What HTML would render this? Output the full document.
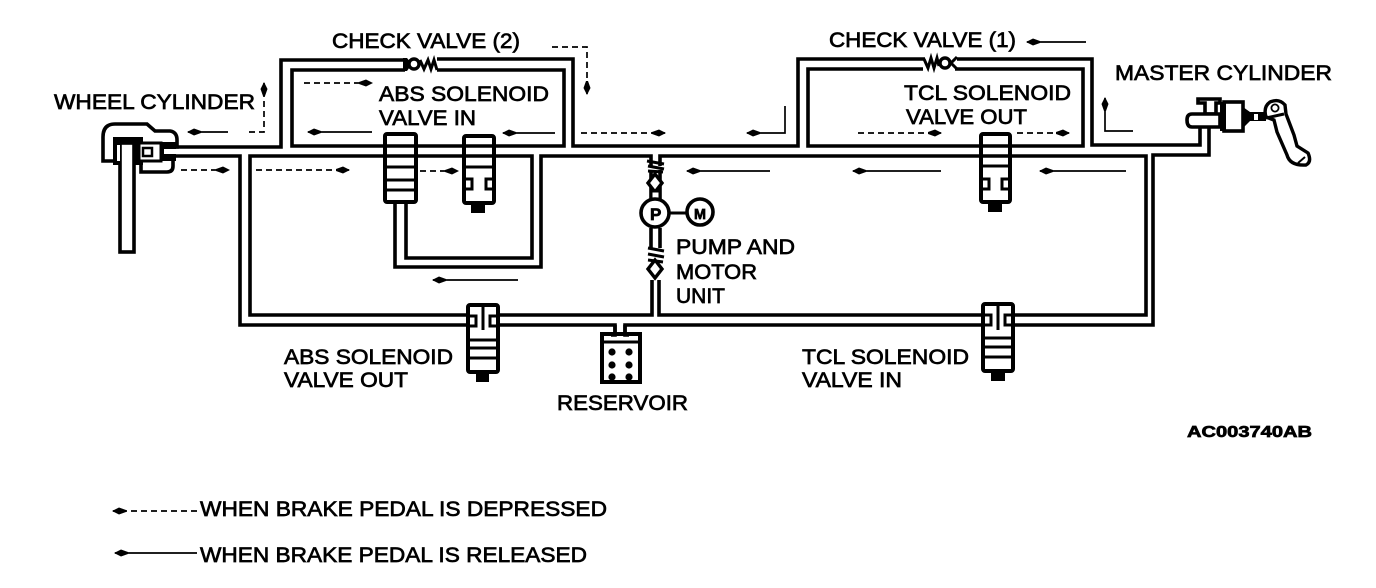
<!DOCTYPE html>
<html><head><meta charset="utf-8"><style>
html,body{margin:0;padding:0;background:#fff;width:1376px;height:588px;overflow:hidden}
svg{display:block}
.p{fill:none;stroke:#000;stroke-width:3.6;stroke-linejoin:miter}
.v{fill:#fff;stroke:#000;stroke-width:4}
.l{stroke:#000;stroke-width:3;fill:none}
.k{fill:#000}
.s{fill:none;stroke:#000;stroke-width:1.7;marker-end:url(#a)}
.d{fill:none;stroke:#000;stroke-width:1.7;stroke-dasharray:6 4;marker-end:url(#a)}
.sp{fill:none;stroke:#000;stroke-width:3}
text{font-family:"Liberation Sans",sans-serif;font-size:21.5px;fill:#000;stroke:#000;stroke-width:.7}
</style></head><body>
<svg width="1376" height="588" viewBox="0 0 1376 588" xmlns="http://www.w3.org/2000/svg">
<defs><marker id="a" markerUnits="userSpaceOnUse" markerWidth="16" markerHeight="10" refX="14" refY="5" orient="auto"><path d="M15 5L8 1.5L1 4V6L8 8.5Z" fill="#000"/></marker></defs>

<!-- pipes -->
<path class="p" d="M175 147H281V60H405M437 59H573V146H798V59H925M957 59H1092V145H1200V125"/>
<path class="p" d="M437 70H564V146H292V70H405"/>
<path class="p" d="M955 69H1083V146H808V69H923"/>
<path class="p" d="M175 156H240V325H470M470 315H250V156H532V258H406V202M395 202V267H541V156H651V166M660 166V156H1146V315H1010M1209 125V155H1153V325H1010"/>
<path class="p" d="M496 315H652V280M659 280V315H985M496 325H615V335M625 335V325H985"/>
<path class="p" d="M651 228V248M660 228V248M651 170V200M660 170V200"/>

<!-- ABS in valve -->
<rect class="v" x="385" y="134" width="31" height="68" rx="2"/>
<path class="p" d="M387 146H414M387 156H414"/>
<path class="l" d="M387 167H414M387 180H414M387 190H414"/>
<!-- second valve -->
<rect class="v" x="464" y="136" width="30" height="67" rx="2"/>
<path class="p" d="M464 146H494M464 156H494"/>
<path class="l" d="M466 167H492"/>
<path class="l" d="M466 179H472V189H466M492 179H486V189H492"/>
<rect class="k" x="471" y="203" width="14" height="10"/>
<!-- TCL out -->
<rect class="v" x="981" y="134" width="29" height="68" rx="2"/>
<path class="p" d="M981 146H1010M981 156H1010"/>
<path class="l" d="M983 166H1008"/>
<path class="l" d="M983 179H989V189H983M1008 179H1002V189H1008"/>
<rect class="k" x="988" y="202" width="14" height="10"/>
<!-- ABS out -->
<rect class="v" x="468" y="305" width="30" height="67" rx="2"/>
<path class="l" d="M470 316H476V326H470M496 316H490V326H496M483 306V330"/>
<path class="l" d="M470 340H496M470 348H496M470 358H496"/>
<rect class="k" x="476" y="372" width="13" height="10"/>
<!-- TCL in -->
<rect class="v" x="983" y="304" width="30" height="67" rx="2"/>
<path class="l" d="M985 315H991V325H985M1011 315H1005V325H1011M998 305V330"/>
<path class="l" d="M985 338H1011M985 347H1011M985 357H1011"/>
<rect class="k" x="991" y="371" width="14" height="10"/>

<!-- Reservoir -->
<rect class="v" x="602" y="334" width="38" height="48" fill="#fff"/>
<path class="l" d="M604 342H638"/>
<path class="p" d="M615 325V335H611M625 325V335H629"/>
<circle class="k" cx="612" cy="352" r="3.6"/><circle class="k" cx="629" cy="352" r="3.6"/>
<circle class="k" cx="612" cy="365" r="3.6"/><circle class="k" cx="629" cy="365" r="3.6"/>
<circle class="k" cx="612" cy="377" r="3.6"/><circle class="k" cx="629" cy="377" r="3.6"/>

<!-- check valves -->
<path class="k" d="M403 58H407L412 64L407 71H403Z"/>
<circle cx="414" cy="64" r="5" fill="#fff" stroke="#000" stroke-width="3.4"/>
<path class="sp" d="M420 60L424 69L428 60L431 69L434 60L437 70"/>
<circle cx="945" cy="63" r="5" fill="#fff" stroke="#000" stroke-width="3.4"/>
<path class="sp" d="M957 57L951 63L957 69M924 59L928 68L931 58L934 68L937 58L939 66"/>
<path class="sp" d="M647 161L664 164M648 166L664 169M648 171L663 172"/>
<path d="M655 174L662 183L655 192L648 183Z" fill="#fff" stroke="#000" stroke-width="3.4"/>
<rect x="651" y="191" width="9" height="9" fill="#fff" stroke="#000" stroke-width="3"/>
<path class="sp" d="M648 248L664 251M648 254L664 257M648 260L663 262"/>
<path d="M655 260L662 269L655 278L648 269Z" fill="#fff" stroke="#000" stroke-width="3.4"/>

<!-- pump & motor -->
<path d="M669 213H688" stroke="#000" stroke-width="3"/>
<circle cx="655" cy="213" r="14" fill="#fff" stroke="#000" stroke-width="3.6"/>
<circle cx="700" cy="212" r="13" fill="#fff" stroke="#000" stroke-width="3.6"/>
<text x="650" y="220" style="font-size:17px;font-weight:bold">P</text>
<text x="694" y="219" style="font-size:15px;font-weight:bold" textLength="12" lengthAdjust="spacingAndGlyphs">M</text>

<!-- wheel cylinder -->
<path d="M103 161V137Q103 124 115 124H147L155 131H170Q177 132 177 140V147H173V166Q173 172 167 172H141V163H115V161Z" fill="#fff" stroke="#000" stroke-width="3.6"/>
<rect class="k" x="113" y="137" width="30" height="28"/>
<rect x="120" y="143" width="14" height="109" fill="#fff" stroke="#000" stroke-width="3.6"/>
<rect x="117" y="145" width="3" height="16" fill="#fff"/>
<rect x="139" y="143" width="22" height="18" fill="#fff" stroke="#000" stroke-width="3"/>
<rect x="143" y="148" width="9" height="8" fill="#fff" stroke="#000" stroke-width="2.5"/>
<rect x="160" y="142" width="16" height="19" fill="#000"/>
<rect x="164" y="149" width="12" height="5" fill="#fff"/>

<!-- master cylinder -->
<path d="M1198 99H1220V103H1216V114H1205V103H1198Z" fill="#fff" stroke="#000" stroke-width="3.6"/>
<path d="M1192 114H1220V127H1192Q1187 127 1187 120Q1187 114 1192 114Z" fill="#fff" stroke="#000" stroke-width="3.6"/>
<rect x="1224" y="102" width="19" height="29" fill="#fff" stroke="#000" stroke-width="3.6"/>
<rect class="k" x="1220" y="102" width="6" height="29"/>
<path d="M1243 107L1250 112H1266V121H1250L1243 128Z" class="k"/>
<rect x="1254" y="114" width="4" height="6" fill="#fff"/>
<path d="M1266 117Q1263 107 1270 102Q1279 98 1285 105L1286 114L1294 135L1297 146L1308 153Q1312 162 1306 165Q1290 166 1287 155L1277 132L1274 120Z" fill="#fff" stroke="#000" stroke-width="3.4"/>
<circle cx="1275" cy="108" r="3.6" fill="none" stroke="#000" stroke-width="1.8"/>
<path d="M1266 118L1284 114" stroke="#000" stroke-width="3"/>
<path d="M1305 157L1298 163" stroke="#000" stroke-width="2"/>

<!-- arrows -->
<path class="s" d="M228 132H188"/>
<path class="d" d="M249 132H264V83"/>
<path class="d" d="M181 170H229"/>
<path class="d" d="M256 170H349"/>
<path class="d" d="M304 83H372"/>
<path class="s" d="M372 132H308"/>
<path class="s" d="M555 133H503"/>
<path class="d" d="M420 171H458"/>
<path class="s" d="M518 280H433"/>
<path class="d" d="M552 47H587V94"/>
<path class="d" d="M581 133H665"/>
<path class="s" d="M785 106V133H747"/>
<path class="s" d="M770 171H687"/>
<path class="s" d="M941 171H853"/>
<path class="d" d="M858 133H941"/>
<path class="d" d="M1017 133H1069"/>
<path class="s" d="M1133 131H1105V98"/>
<path class="s" d="M1126 171H1040"/>
<path class="s" d="M1086 42H1027"/>
<path class="d" d="M197 511H113"/>
<path class="s" d="M197 553H115"/>

<!-- labels -->
<text lengthAdjust="spacingAndGlyphs" x="332" y="48" textLength="188">CHECK VALVE (2)</text>
<text lengthAdjust="spacingAndGlyphs" x="829" y="47" textLength="187">CHECK VALVE (1)</text>
<text lengthAdjust="spacingAndGlyphs" x="1115" y="80" textLength="217">MASTER CYLINDER</text>
<text lengthAdjust="spacingAndGlyphs" x="54" y="109" textLength="201">WHEEL CYLINDER</text>
<text lengthAdjust="spacingAndGlyphs" x="379" y="101" textLength="170">ABS SOLENOID</text>
<text lengthAdjust="spacingAndGlyphs" x="379" y="125" textLength="97">VALVE IN</text>
<text lengthAdjust="spacingAndGlyphs" x="904" y="100" textLength="167">TCL SOLENOID</text>
<text lengthAdjust="spacingAndGlyphs" x="906" y="124" textLength="121">VALVE OUT</text>
<text lengthAdjust="spacingAndGlyphs" x="676" y="254" textLength="119">PUMP AND</text>
<text lengthAdjust="spacingAndGlyphs" x="676" y="279" textLength="81">MOTOR</text>
<text lengthAdjust="spacingAndGlyphs" x="676" y="303" textLength="49">UNIT</text>
<text lengthAdjust="spacingAndGlyphs" x="284" y="364" textLength="169">ABS SOLENOID</text>
<text lengthAdjust="spacingAndGlyphs" x="284" y="387" textLength="124">VALVE OUT</text>
<text lengthAdjust="spacingAndGlyphs" x="557" y="410" textLength="131">RESERVOIR</text>
<text lengthAdjust="spacingAndGlyphs" x="802" y="364" textLength="167">TCL SOLENOID</text>
<text lengthAdjust="spacingAndGlyphs" x="802" y="387" textLength="100">VALVE IN</text>
<text lengthAdjust="spacingAndGlyphs" x="1187" y="437" textLength="125" style="font-size:16px;font-weight:bold">AC003740AB</text>
<text lengthAdjust="spacingAndGlyphs" x="200" y="516" textLength="407">WHEN BRAKE PEDAL IS DEPRESSED</text>
<text lengthAdjust="spacingAndGlyphs" x="200" y="562" textLength="387">WHEN BRAKE PEDAL IS RELEASED</text>
</svg>
</body></html>
